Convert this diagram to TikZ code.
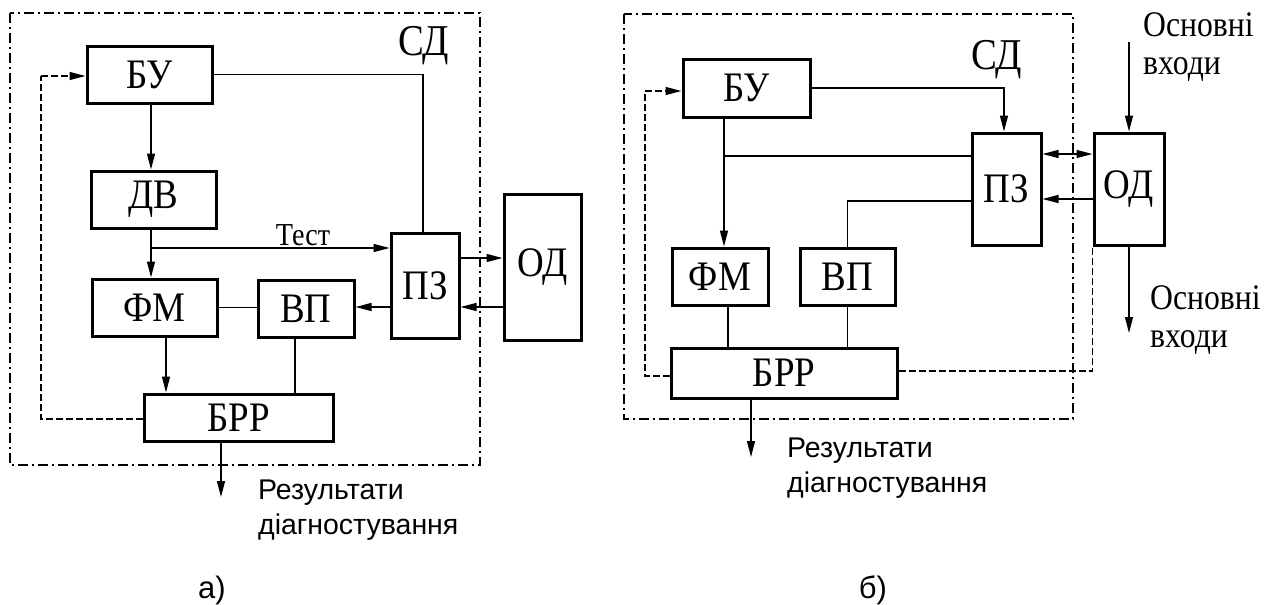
\documentclass[tikz,border=0pt]{standalone}
\usepackage{fontspec}
\setmainfont[FakeStretch=0.88]{Liberation Serif}
\newfontfamily\lsans{Liberation Sans}
\usetikzlibrary{arrows.meta}
\tikzset{
  blk/.style={draw, line width=3pt, rectangle, inner sep=0pt, font=\fontsize{42}{42}\selectfont},
  con/.style={line width=1.3pt},
  arr/.style={con, -{Triangle[length=16pt,width=8pt]}},
  arrb/.style={con, {Triangle[length=16pt,width=8pt]}-{Triangle[length=16pt,width=8pt]}},
  dsh/.style={con, dash pattern=on 7pt off 3pt},
  frame/.style={line width=1.3pt, dash pattern=on 10pt off 4pt on 2pt off 4pt},
  lbl/.style={inner sep=0pt},
  sd/.style={lbl, font=\fontsize{44}{44}\selectfont},
  res/.style={lbl, anchor=west, align=left, font=\lsans\fontsize{28.5}{35}\selectfont},
  inp/.style={lbl, anchor=west, align=left, font=\fontsize{36}{38}\selectfont},
  captxt/.style={lbl, font=\lsans\fontsize{31}{31}\selectfont}
}
\begin{document}
\begin{tikzpicture}[x=1pt, y=-1pt]
\useasboundingbox (0,0) rectangle (1275,605);
% ---------------- panel a ----------------
\draw[frame] (10,13) rectangle (480,465);
\node[sd] (sdA) at (424,46) {СД};
\node[blk, minimum width=125pt, minimum height=57pt] (buA) at (149.5,74.5) {БУ};
\node[blk, minimum width=125pt, minimum height=57pt] (dvA) at (153.5,199.5) {ДВ};
\node[blk, minimum width=125pt, minimum height=57pt] (fmA) at (154.5,307.5) {ФМ};
\node[blk, minimum width=96pt, minimum height=57pt] (vpA) at (306,308.5) {ВП};
\node[blk, minimum width=68pt, minimum height=105pt] (pzA) at (425,285.5) {ПЗ};
\node[blk, minimum width=77pt, minimum height=146pt] (odA) at (542.5,267) {ОД};
\node[blk, minimum width=189pt, minimum height=47pt] (brrA) at (238.5,417.5) {БРР};
\coordinate (tA) at (151,248);
\coordinate (fbA) at (41,76);
\coordinate (outA) at (221,497);
\draw[arr] ([xshift=1.5pt]buA.south) -- ([xshift=1.5pt]buA.south |- dvA.north);
\draw[arr] (tA |- dvA.south) -- (tA |- fmA.north);
\draw[arr] (tA) -- (tA -| pzA.west);
\node[lbl, font=\fontsize{32}{32}\selectfont] (testA) at (303,235) {Тест};
\draw[con] (buA.east) -| ([xshift=-2pt]pzA.north);
\draw[arr] ([yshift=27.5pt]pzA.east) -- ([yshift=27.5pt]pzA.east -| odA.west);
\draw[arr] ([yshift=-40pt]odA.west) -- ([yshift=-40pt]odA.west -| pzA.east);
\draw[arr] ([yshift=-21.5pt]pzA.west) -- ([yshift=-21.5pt]pzA.west -| vpA.east);
\draw[con] (fmA.east) -- (fmA.east -| vpA.west);
\draw[arr] ([xshift=11.5pt]fmA.south) -- ([xshift=11.5pt]fmA.south |- brrA.north);
\draw[con] ([xshift=-11pt]vpA.south) -- ([xshift=-11pt]vpA.south |- brrA.north);
\draw[arr] (brrA.south -| outA) -- (outA);
\draw[dsh] ([yshift=-1.5pt]brrA.west) -| (fbA);
\draw[dsh, -{Triangle[length=16pt,width=8pt]}] (fbA) -- (fbA -| buA.west);
\node[res] (resA) at (258,510) {Результати\\діагностування};
\node[captxt] (capA) at (212,590) {а)};
% ---------------- panel b ----------------
\draw[frame] (624,14) rectangle (1073,419);
\node[sd] (sdB) at (997,60) {СД};
\node[blk, minimum width=127pt, minimum height=58pt] (buB) at (746.5,88) {БУ};
\node[blk, minimum width=69pt, minimum height=112pt] (pzB) at (1006.5,189) {ПЗ};
\node[blk, minimum width=70pt, minimum height=112pt] (odB) at (1129,189) {ОД};
\node[blk, minimum width=96pt, minimum height=57pt] (fmB) at (720,276.5) {ФМ};
\node[blk, minimum width=95pt, minimum height=57pt] (vpB) at (847.5,276.5) {ВП};
\node[blk, minimum width=226pt, minimum height=50pt] (brrB) at (784,373) {БРР};
\coordinate (brB) at (724,156);
\coordinate (fbB) at (645,91);
\coordinate (inB) at (1129,42);
\coordinate (outB) at (1129,333);
\coordinate (resOutB) at (751,457);
\draw[arr] (buB.east) -| ([xshift=-2.5pt]pzB.north);
\draw[arr] ([xshift=-22.5pt]buB.south) -- ([xshift=-22.5pt]buB.south |- fmB.north);
\draw[con] (brB) -- (brB -| pzB.west);
\draw[arrb] ([yshift=35pt]pzB.east) -- ([yshift=35pt]pzB.east -| odB.west);
\draw[arr] ([yshift=-10pt]odB.west) -- ([yshift=-10pt]odB.west -| pzB.east);
\draw[con] ([yshift=-12pt]pzB.west) -| (vpB.north);
\draw[con] ([xshift=8pt]fmB.south) -- ([xshift=8pt]fmB.south |- brrB.north);
\draw[con] (vpB.south) -- (vpB.south |- brrB.north);
\draw[arr] (brrB.south -| resOutB) -- (resOutB);
\draw[dsh] ([yshift=-3pt]brrB.west) -| (fbB);
\draw[dsh, -{Triangle[length=16pt,width=8pt]}] (fbB) -- (fbB -| buB.west);
\draw[dsh] ([yshift=2pt]brrB.east) -| (odB.south west);
\draw[arr] (inB) -- (odB.north);
\draw[arr] (odB.south) -- (outB);
\node[inp] (inTxt) at (1143,47) {Основні\\входи};
\node[inp] (outTxt) at (1150,320) {Основні\\входи};
\node[res] (resB) at (787,468) {Результати\\діагностування};
\node[captxt] (capB) at (873,590) {б)};
\end{tikzpicture}
\end{document}
